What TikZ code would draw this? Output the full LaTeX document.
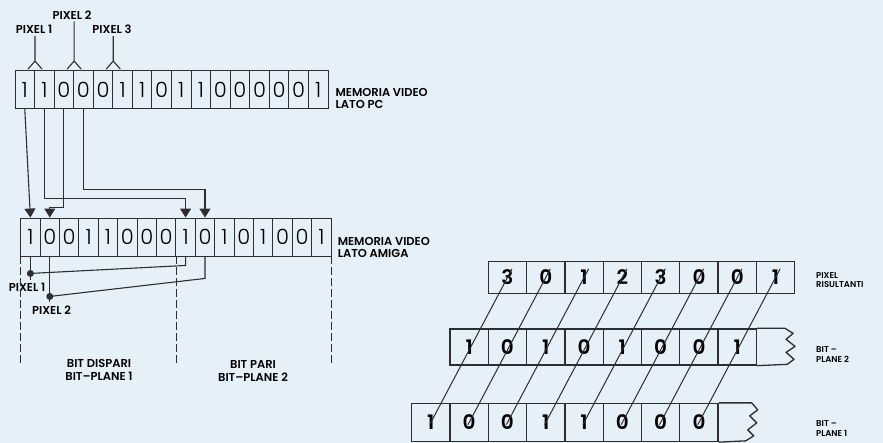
\documentclass[tikz,border=0pt]{standalone}
\usepackage{fontspec}
\setmainfont{Poppins}
\newfontfamily\thinfont{Poppins Light}
\newfontfamily\demifont{Poppins SemiBold}
\usetikzlibrary{positioning, arrows.meta, calc}
\definecolor{paper}{RGB}{229,240,249}
\definecolor{ink}{RGB}{45,45,50}

\begin{document}
\begin{tikzpicture}[x=1pt, y=-1pt,
    pccell/.style={rectangle, draw=ink, line width=0.9pt, minimum width=19.56pt, minimum height=38pt,
                   inner sep=0pt, font=\thinfont\fontsize{21}{21}\selectfont},
    amcell/.style={pccell, minimum width=19.4pt},
    bigcell/.style={rectangle, draw=ink, line width=1.3pt, minimum width=38.3pt, minimum height=36pt,
                    inner sep=0pt, font=\demifont\fontsize{20}{20}\selectfont},
    lbl/.style={font=\demifont\fontsize{11.5}{12}\selectfont, align=left, inner sep=0pt},
    tag/.style={font=\demifont\fontsize{11.5}{13}\selectfont, align=center, inner sep=0pt},
    side/.style={font=\demifont\fontsize{8.5}{9.5}\selectfont, align=left, inner sep=0pt, anchor=west},
    wire/.style={draw=ink, line width=1.1pt},
    arrow/.style={wire, -{Triangle[width=11pt, length=9pt]}},
    guide/.style={draw=ink, line width=1pt, dash pattern=on 8pt off 3pt},
    dot/.style={circle, fill=ink, inner sep=0pt, minimum size=7pt},
    slash/.style={draw=ink, line width=1pt},
    rip/.style={draw=ink, line width=1.3pt, line join=round}
]
    \fill[paper] (0,0) rectangle (883,443);
    \useasboundingbox (0,0) rectangle (883,443);

    % memoria video lato PC
    \foreach \b [count=\i] in {1,1,0,0,0,1,1,0,1,1,0,0,0,0,0,1}
        \node[pccell] (pc\i) at ({15+(\i-0.5)*19.56}, 89.5) {\b};
    \node[lbl, anchor=south west] (pclbl) at ($(pc16.south east)+(7,0)$) {MEMORIA VIDEO\\LATO PC};

    % pixel markers
    \node[tag] (px1) at (34,29.5) {PIXEL 1};
    \node[tag] (px2) at (72,15) {PIXEL 2};
    \node[tag] (px3) at (112,29.5) {PIXEL 3};
    \coordinate (f1) at ($(pc1.north east)+(0,-9)$);
    \coordinate (f2) at ($(pc3.north east)+(0,-9)$);
    \coordinate (f3) at ($(pc5.north east)+(0,-9)$);
    \draw[wire] (px1.south -| f1) ++(0,2) -- (f1) -- ++(-7,8) (f1) -- ++(7,8);
    \draw[wire] (px2.south -| f2) ++(0,2) -- (f2) -- ++(-7,8) (f2) -- ++(7,8);
    \draw[wire] (px3.south -| f3) ++(0,2) -- (f3) -- ++(-7,8) (f3) -- ++(7,8);

    % memoria video lato Amiga
    \foreach \b [count=\i] in {1,0,0,1,1,0,0,0,1,0,1,0,1,0,0,1}
        \node[amcell] (am\i) at ({20.7+(\i-0.5)*19.4}, 237) {\b};
    \node[lbl, anchor=south west] (amlbl) at ($(am16.south east)+(6,1)$) {MEMORIA VIDEO\\LATO AMIGA};

    \draw[arrow] (pc1.south) -- (am1.north);
    \draw[arrow] (pc2.south) -- ++(0,90) -| (am9.north);
    \draw[arrow] (pc3.south) -- ++(0,99) -| (am2.north);
    \draw[arrow] (pc4.south) -- ++(0,81) -| (am10.north);

    % pixel riassemblati
    \node[dot] (dotA) at ($(am1.south)+(0,17)$) {};
    \node[dot] (dotB) at ($(am2.south)+(0,40)$) {};
    \node[tag, anchor=north] (pxA) at (27,282.5) {PIXEL 1};
    \node[tag, anchor=north] (pxB) at (51.5,306) {PIXEL 2};
    \draw[wire] (am1.south) -- (dotA.center) -- ++(0,7);
    \draw[wire] (am9.south) -- ++(0,9) -- (dotA.center);
    \draw[wire] (am2.south) -- (dotB.center) -- ++(0,6);
    \draw[wire] (am10.south) -- ++(0,22) -- (dotB.center);

    \draw[guide] (am1.south west) -- ++(0,109);
    \draw[guide] (am8.south east) -- ++(0,109);
    \draw[guide] (am16.south east) -- ++(0,109);
    \node[tag] (odd) at (99,369.5) {BIT DISPARI\\BIT–PLANE 1};
    \node[tag] (even) at (253,371) {BIT PARI\\BIT–PLANE 2};

    % bit-plane a destra
    \foreach \b [count=\i] in {3,0,1,2,3,0,0,1}
        \node[bigcell, minimum height=32pt] (pr\i) at ({488.3+(\i-0.5)*38.3}, 277.5) {\b};
    \foreach \b [count=\i] in {1,0,1,0,1,0,0,1}
        \node[bigcell] (bptwo\i) at ({450+(\i-0.5)*38.3}, 347) {\b};
    \foreach \b [count=\i] in {1,0,0,1,1,0,0,0}
        \node[bigcell, minimum height=38pt] (bpone\i) at ({411.7+(\i-0.5)*38.3}, 422.5) {\b};

    \draw[rip] (bptwo8.north east) -- ++(28,0) -- ++(8,5) -- ++(-7,6) -- ++(9,7) -- ++(-9,6)
        -- ++(8,7) -- ++(-7,5) -- (bptwo8.south east);
    \draw[rip] (bpone8.north east) -- ++(33,0) -- ++(6,7) -- ++(-8,6) -- ++(7,7) -- ++(-9,7)
        -- ++(6,6) -- ++(-8,5) -- (bpone8.south east);

    \foreach \i in {1,...,8}
        \draw[slash] ($(pr\i.center)!1.015!(bpone\i.center)$) -- ($(bpone\i.center)!1.06!(pr\i.center)$);

    \node[side] (prlbl) at (816,280) {PIXEL\\RISULTANTI};
    \node[side] (bptwolbl) at (816,354.5) {BIT –\\PLANE 2};
    \node[side] (bponelbl) at (816,428.5) {BIT –\\PLANE 1};
\end{tikzpicture}
\end{document}
